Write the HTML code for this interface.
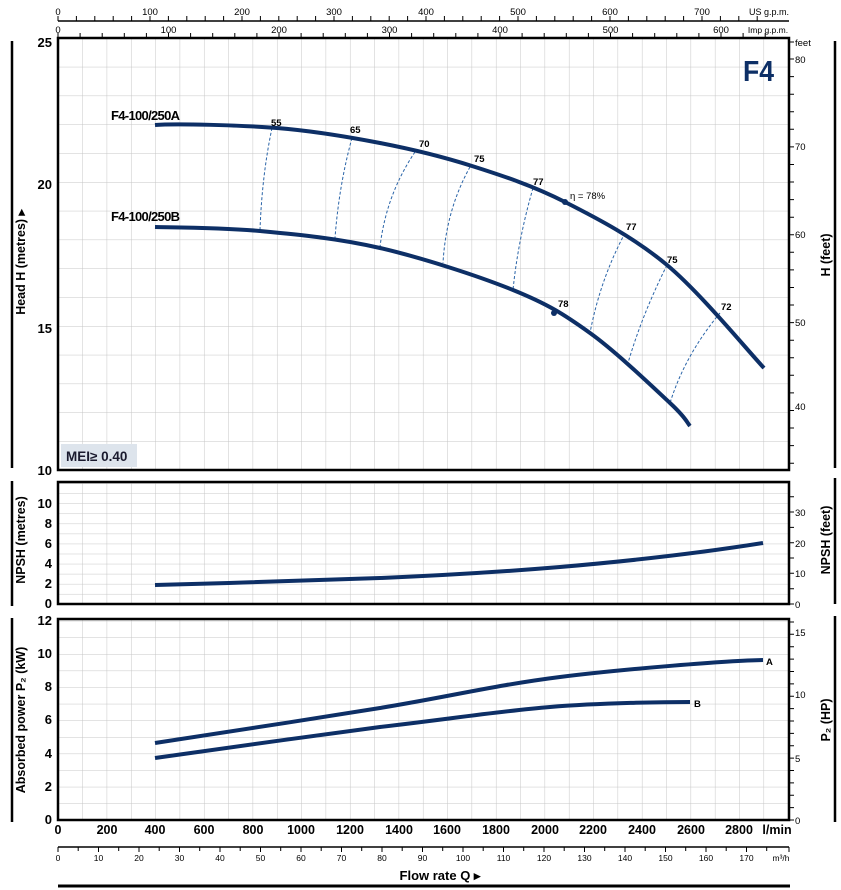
<!DOCTYPE html>
<html><head><meta charset="utf-8"><style>
body{margin:0;background:#fff}
svg{display:block}
text{font-family:"Liberation Sans",sans-serif}
</style></head><body>
<svg width="841" height="890" viewBox="0 0 841 890" xmlns="http://www.w3.org/2000/svg">
<defs>
<pattern id="g1" x="58" y="38" width="24.33" height="28.8" patternUnits="userSpaceOnUse"><path d="M0 0V28.8M0 0H24.33" stroke="#c6c6c6" stroke-width="1" fill="none"/></pattern>
<pattern id="g2" x="58" y="604" width="24.33" height="10.05" patternUnits="userSpaceOnUse"><path d="M0 0V10.05M0 0H24.33" stroke="#c6c6c6" stroke-width="1" fill="none"/></pattern>
<pattern id="g3" x="58" y="820" width="24.33" height="16.6" patternUnits="userSpaceOnUse"><path d="M0 0V16.6M0 0H24.33" stroke="#c6c6c6" stroke-width="1" fill="none"/></pattern>
</defs>
<rect x="58" y="38" width="731" height="432" fill="url(#g1)"/>
<rect x="58" y="482" width="731" height="122" fill="url(#g2)"/>
<rect x="58" y="619" width="731" height="201" fill="url(#g3)"/>
<rect x="58" y="38" width="731" height="432" fill="none" stroke="#000" stroke-width="2.5"/>
<rect x="58" y="482" width="731" height="122" fill="none" stroke="#000" stroke-width="2.5"/>
<rect x="58" y="619" width="731" height="201" fill="none" stroke="#000" stroke-width="2.5"/>
<g stroke="#000" stroke-width="2.5">
<line x1="12" y1="41" x2="12" y2="468"/><line x1="12" y1="481" x2="12" y2="606"/><line x1="12" y1="618" x2="12" y2="822"/>
<line x1="835" y1="41" x2="835" y2="468"/><line x1="835" y1="478" x2="835" y2="604"/><line x1="835" y1="616" x2="835" y2="822"/>
<line x1="58" y1="886" x2="790" y2="886" stroke-width="3"/>
</g>
<g stroke="#000" stroke-width="1">
<line x1="58" y1="21" x2="789" y2="21" stroke-width="1.5"/>
<path d="M58 21v-5M76.4 21v-5M94.8 21v-5M113.2 21v-5M131.6 21v-5M150 21v-5M168.4 21v-5M186.8 21v-5M205.2 21v-5M223.6 21v-5M242 21v-5M260.4 21v-5M278.8 21v-5M297.2 21v-5M315.6 21v-5M334 21v-5M352.4 21v-5M370.8 21v-5M389.2 21v-5M407.6 21v-5M426 21v-5M444.4 21v-5M462.8 21v-5M481.2 21v-5M499.6 21v-5M518 21v-5M536.4 21v-5M554.8 21v-5M573.2 21v-5M591.6 21v-5M610 21v-5M628.4 21v-5M646.8 21v-5M665.2 21v-5M683.6 21v-5M702 21v-5M720.4 21v-5M738.8 21v-5M757.2 21v-5"/>
<path d="M58 38v-5M80.1 38v-5M102.2 38v-5M124.3 38v-5M146.4 38v-5M168.5 38v-5M190.6 38v-5M212.7 38v-5M234.8 38v-5M256.9 38v-5M279 38v-5M301.1 38v-5M323.2 38v-5M345.3 38v-5M367.4 38v-5M389.5 38v-5M411.6 38v-5M433.7 38v-5M455.8 38v-5M477.9 38v-5M500 38v-5M522.1 38v-5M544.2 38v-5M566.3 38v-5M588.4 38v-5M610.5 38v-5M632.6 38v-5M654.7 38v-5M676.8 38v-5M698.9 38v-5M721 38v-5M743.1 38v-5M765.2 38v-5"/>
</g>
<g font-size="9.5" fill="#000" text-anchor="middle">
<text x="58" y="15">0</text><text x="150" y="15">100</text><text x="242" y="15">200</text><text x="334" y="15">300</text><text x="426" y="15">400</text><text x="518" y="15">500</text><text x="610" y="15">600</text><text x="702" y="15">700</text>
<text x="58" y="33">0</text><text x="168.5" y="33">100</text><text x="279" y="33">200</text><text x="389.5" y="33">300</text><text x="500" y="33">400</text><text x="610.5" y="33">500</text><text x="721" y="33">600</text>
<text x="769" y="15" font-size="9">US g.p.m.</text><text x="768" y="33" font-size="8.5">Imp g.p.m.</text>
</g>
<g stroke="#000" stroke-width="1">
<path d="M789 59h5M789 76.6h5M789 94.2h5M789 111.8h5M789 129.3h5M789 146.9h5M789 164.5h5M789 182h5M789 199.6h5M789 217.2h5M789 234.8h5M789 252.3h5M789 269.9h5M789 287.5h5M789 305h5M789 322.6h5M789 340.2h5M789 357.7h5M789 375.3h5M789 392.9h5M789 410.5h5M789 428h5M789 445.6h5M789 463.2h5M789 42h5"/>
<path d="M789 604h5M789 588.7h5M789 573.3h5M789 558h5M789 542.7h5M789 527.4h5M789 512h5M789 496.7h5"/>
<path d="M789 820h5M789 807.6h5M789 795.2h5M789 782.9h5M789 770.5h5M789 758.1h5M789 745.7h5M789 733.4h5M789 721h5M789 708.6h5M789 696.2h5M789 683.9h5M789 671.5h5M789 659.1h5M789 646.7h5M789 634.3h5M789 622h5"/>
</g>
<g font-size="9.5" fill="#000">
<text x="795" y="46">feet</text><text x="795" y="63">80</text><text x="795" y="150">70</text><text x="795" y="238">60</text><text x="795" y="326">50</text><text x="795" y="410">40</text>
<text x="795" y="608">0</text><text x="795" y="577">10</text><text x="795" y="547">20</text><text x="795" y="516">30</text>
<text x="795" y="824">0</text><text x="795" y="762">5</text><text x="795" y="698">10</text><text x="795" y="636">15</text>
</g>
<g font-size="13" font-weight="bold" fill="#000" text-anchor="end">
<text x="52" y="47">25</text><text x="52" y="189">20</text><text x="52" y="333">15</text><text x="52" y="475">10</text>
<text x="52" y="608">0</text><text x="52" y="588">2</text><text x="52" y="568">4</text><text x="52" y="548">6</text><text x="52" y="528">8</text><text x="52" y="508">10</text>
<text x="52" y="824">0</text><text x="52" y="791">2</text><text x="52" y="758">4</text><text x="52" y="724">6</text><text x="52" y="691">8</text><text x="52" y="658">10</text><text x="52" y="625">12</text>
</g>
<g font-size="12.5" font-weight="bold" fill="#000" text-anchor="middle">
<text transform="translate(25,262) rotate(-90)">Head H  (metres) ▸</text>
<text transform="translate(25,540) rotate(-90)">NPSH  (metres)</text>
<text transform="translate(25,720) rotate(-90)">Absorbed power  P₂  (kW)</text>
<text transform="translate(830,255) rotate(-90)">H  (feet)</text>
<text transform="translate(830,540) rotate(-90)">NPSH  (feet)</text>
<text transform="translate(830,720) rotate(-90)">P₂  (HP)</text>
</g>
<g font-size="12.5" font-weight="bold" fill="#000" text-anchor="middle">
<text x="58" y="834">0</text><text x="107" y="834">200</text><text x="155" y="834">400</text><text x="204" y="834">600</text><text x="253" y="834">800</text><text x="301" y="834">1000</text><text x="350" y="834">1200</text><text x="399" y="834">1400</text><text x="447" y="834">1600</text><text x="496" y="834">1800</text><text x="545" y="834">2000</text><text x="593" y="834">2200</text><text x="642" y="834">2400</text><text x="691" y="834">2600</text><text x="739" y="834">2800</text><text x="777" y="834">l/min</text>
</g>
<g stroke="#000" stroke-width="1">
<line x1="58" y1="847" x2="789" y2="847" stroke-width="1.5"/>
<path d="M58 847v5M78.2 847v4M98.5 847v5M118.7 847v4M139 847v5M159.2 847v4M179.5 847v5M199.7 847v4M220 847v5M240.2 847v4M260.5 847v5M280.7 847v4M301 847v5M321.2 847v4M341.5 847v5M361.7 847v4M382 847v5M402.2 847v4M422.5 847v5M442.7 847v4M463 847v5M483.2 847v4M503.5 847v5M523.7 847v4M544 847v5M564.2 847v4M584.5 847v5M604.7 847v4M625 847v5M645.2 847v4M665.5 847v5M685.7 847v4M706 847v5M726.2 847v4M746.5 847v5M766.7 847v4M789 847v5"/>
</g>
<g font-size="8.5" fill="#000" text-anchor="middle">
<text x="58" y="861">0</text><text x="98.5" y="861">10</text><text x="139" y="861">20</text><text x="179.5" y="861">30</text><text x="220" y="861">40</text><text x="260.5" y="861">50</text><text x="301" y="861">60</text><text x="341.5" y="861">70</text><text x="382" y="861">80</text><text x="422.5" y="861">90</text><text x="463" y="861">100</text><text x="503.5" y="861">110</text><text x="544" y="861">120</text><text x="584.5" y="861">130</text><text x="625" y="861">140</text><text x="665.5" y="861">150</text><text x="706" y="861">160</text><text x="746.5" y="861">170</text><text x="781" y="861">m³/h</text>
</g>
<text x="440" y="880" font-size="13" font-weight="bold" text-anchor="middle">Flow rate  Q  ▸</text>
<g fill="none" stroke="#2a64a8" stroke-width="1" stroke-dasharray="3,2">
<path d="M272 128Q262 175 260 230"/>
<path d="M352 138Q339 185 335 238"/>
<path d="M415 152Q386 195 380 247"/>
<path d="M470 167Q446 210 443 263"/>
<path d="M533 188Q518 240 513 290"/>
<path d="M625 233Q600 280 590 333"/>
<path d="M667 265Q642 315 628 363"/>
<path d="M720 313Q685 355 670 403"/>
</g>
<g fill="none" stroke="#0d2f66" stroke-width="4" stroke-linejoin="round" stroke-linecap="butt">
<path d="M155 125C175 123.5 239.5 125 277 128C314.5 131 347.5 136.7 380 143C412.5 149.3 441.2 156.2 472 166C502.8 175.8 532.5 185.5 565 202C597.5 218.5 633.8 237.3 667 265C700.2 292.7 747.8 350.8 764 368"/>
<path d="M155 227C172.5 227.4 222.5 227.5 260 231C297.5 234.5 337.8 238.2 380 248C422.2 257.8 478 275.8 513 290C548 304.2 563.8 314.2 590 333C616.2 351.8 653.3 387.5 670 403C686.7 418.5 686.7 422.2 690 426"/>
<path d="M155 585C230 583 300 581 380 578C440 575.5 500 572 560 567C630 561 700 553 763 543"/>
<path d="M155 743C192.5 737.2 312.5 719 380 708C447.5 697 496.2 685 560 677C623.8 669 729.2 660.5 763 660"/>
<path d="M155 758C192.5 752.8 314.2 735.5 380 727C445.8 719.5 498.3 711.2 550 707C601.7 702.8 666.7 702 690 702"/>
</g>
<circle cx="565" cy="202" r="3" fill="#0d2f66"/>
<circle cx="554" cy="313" r="3" fill="#0d2f66"/>
<g font-size="9.5" font-weight="bold" fill="#000">
<text x="271" y="126">55</text><text x="350" y="133">65</text><text x="419" y="147">70</text><text x="474" y="162">75</text><text x="533" y="185">77</text><text x="626" y="230">77</text><text x="667" y="263">75</text><text x="721" y="310">72</text><text x="558" y="307">78</text>
<text x="570" y="199" font-weight="normal">η = 78%</text>
<text x="766" y="665">A</text><text x="694" y="707">B</text>
</g>
<g font-size="13" font-weight="bold" fill="#000">
<text x="111" y="120" textLength="69">F4-100/250A</text>
<text x="111" y="221" textLength="69">F4-100/250B</text>
</g>
<text x="743" y="81" font-size="29" font-weight="bold" fill="#0d2f66" textLength="31" lengthAdjust="spacingAndGlyphs">F4</text>
<rect x="61" y="444" width="76" height="23" fill="#dde4ec"/>
<text x="66" y="461" font-size="13.5" font-weight="bold" fill="#1a1a2e">MEI≥ 0.40</text>
</svg>
</body></html>
